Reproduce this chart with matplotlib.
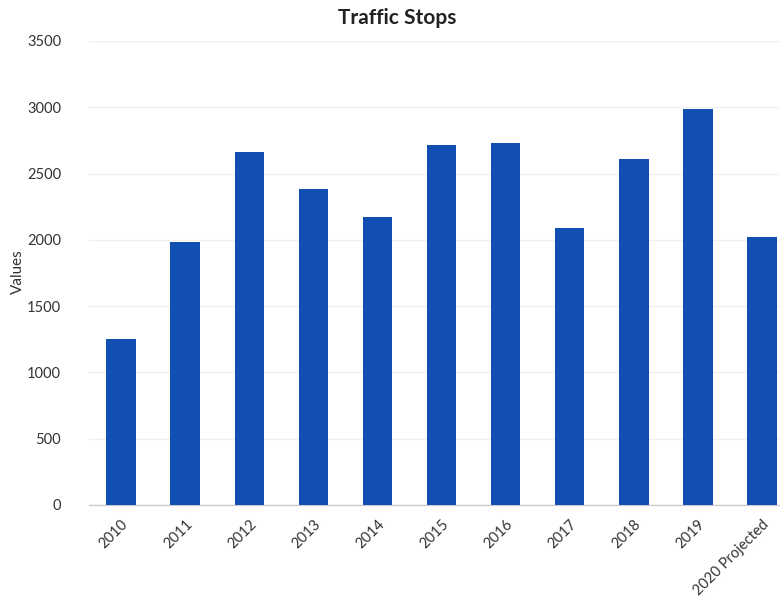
import matplotlib
matplotlib.use("Agg")
import matplotlib.pyplot as plt

categories = ["2010", "2011", "2012", "2013", "2014", "2015", "2016", "2017",
              "2018", "2019", "2020 Projected"]
values = [1250, 1981, 2664, 2381, 2174, 2715, 2728, 2091, 2612, 2986, 2023]
yticks = [0, 500, 1000, 1500, 2000, 2500, 3000, 3500]

plt.rcParams['font.family'] = ['Lato', 'DejaVu Sans']

W, H = 780, 598
fig = plt.figure(figsize=(W / 100, H / 100), dpi=100)
left, right, top, bottom = 89, 780, 41, 505
ax = fig.add_axes([left / W, 1 - bottom / H, (right - left) / W, (bottom - top) / H])

x = list(range(len(categories)))
ax.bar(x, values, width=0.46, color="#1150B2", zorder=3)

ax.set_ylim(0, 3500)
ax.set_xlim(-0.5, 10.28)
ax.set_yticks(yticks)
ax.set_yticklabels([str(v) for v in yticks], fontsize=10.5, color="#333333")
ax.set_xticks(x)
ax.set_xticklabels(categories, rotation=45, ha="right", rotation_mode="anchor",
                   fontsize=10.5, color="#333333")
ax.tick_params(axis="both", length=0)
ax.tick_params(axis="y", pad=20)
ax.tick_params(axis="x", pad=9)

ax.grid(axis="y", color="#f0f0f0", linewidth=1, zorder=0)
for s in ["top", "right", "left"]:
    ax.spines[s].set_visible(False)
ax.spines["bottom"].set_color("#cccccc")
ax.spines["bottom"].set_linewidth(1)

fig.text(18 / W, 1 - 272 / H, "Values", rotation=90, ha="center", va="center",
         fontsize=11, color="#333333")
fig.text(397 / W, 1 - 18 / H, "Traffic Stops", ha="center", va="center",
         fontsize=15, fontweight="bold", color="#222222")

fig.savefig("out.png", dpi=100)
